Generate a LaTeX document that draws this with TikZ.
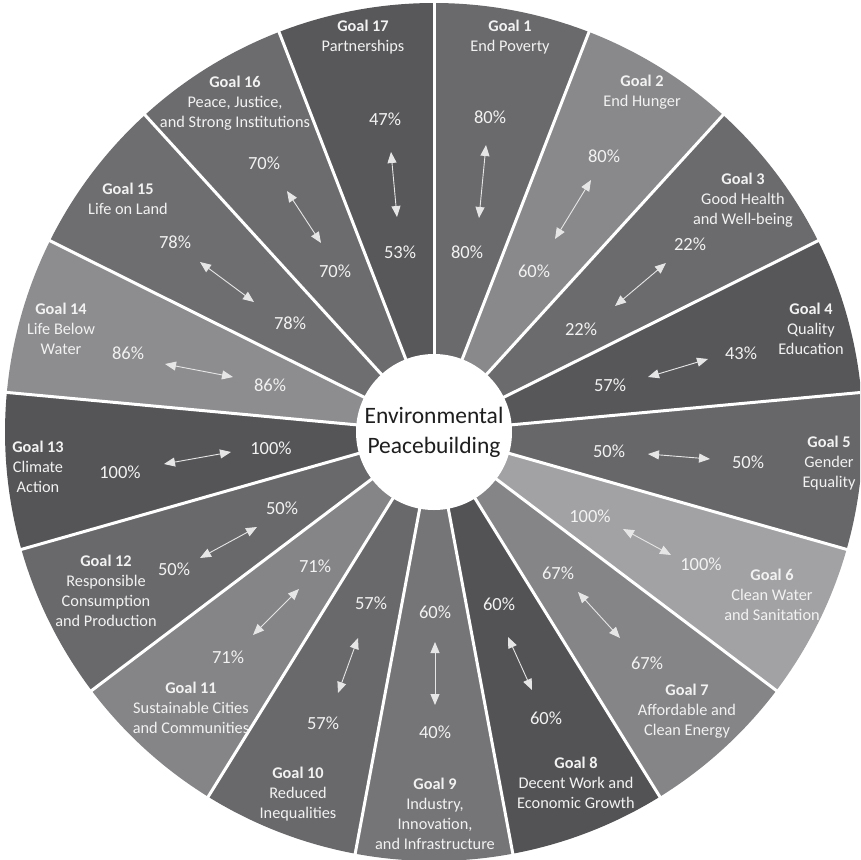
\documentclass[tikz,border=0pt]{standalone}
\usepackage{fontspec}
\setmainfont{Carlito}
\usetikzlibrary{arrows.meta}
\definecolor{c1}{HTML}{6A6A6D}
\definecolor{c2}{HTML}{89898C}
\definecolor{c3}{HTML}{6B6B6E}
\definecolor{c4}{HTML}{57575A}
\definecolor{c5}{HTML}{67676A}
\definecolor{c6}{HTML}{A2A2A5}
\definecolor{c7}{HTML}{858588}
\definecolor{c8}{HTML}{535356}
\definecolor{c9}{HTML}{757578}
\definecolor{c10}{HTML}{69696C}
\definecolor{c11}{HTML}{858588}
\definecolor{c12}{HTML}{69696C}
\definecolor{c13}{HTML}{555558}
\definecolor{c14}{HTML}{8D8D90}
\definecolor{c15}{HTML}{6E6E71}
\definecolor{c16}{HTML}{6C6C6F}
\definecolor{c17}{HTML}{58585B}
\definecolor{labelc}{HTML}{F2F2F2}
\definecolor{arrowc}{HTML}{E6E6E6}
\definecolor{centertext}{HTML}{1E1E1E}
\begin{document}
\begin{tikzpicture}[x=1pt,y=-1pt,
  lbl/.style={text=labelc, align=center, font=\fontsize{16.3}{19.8}\selectfont, inner sep=0pt},
  pct/.style={text=labelc, font=\fontsize{18.5}{20}\selectfont, inner sep=0pt},
  dbl/.style={draw=arrowc, line width=0.9pt, {Triangle[length=11pt,width=9pt]}-{Triangle[length=11pt,width=9pt]}},
  sep/.style={draw=white, line width=3pt}]
\useasboundingbox (0,0) rectangle (860,860);
\fill[white] (0,0) rectangle (860,860);
\clip (0,0) rectangle (860,860);
\coordinate (C) at (434,432);
% sectors
\foreach \k in {1,...,17}{
  \pgfmathsetmacro\ta{-90+(\k-1)*360/17}
  \pgfmathsetmacro\tb{-90+\k*360/17}
  \fill[c\k] (C) -- ++(\ta:429) arc[start angle=\ta, end angle=\tb, radius=429] -- cycle;
}
% separators
\foreach \k in {0,...,16}{
  \pgfmathsetmacro\ta{-90+\k*360/17}
  \draw[sep] (C) -- ++(\ta:440);
}
% centre
\node[circle, fill=white, minimum size=156pt, inner sep=0pt, text=centertext, align=center,
  font=\fontsize{23.5}{30}\selectfont] (centre) at (C) {Environmental\\Peacebuilding};

% Goal 1
\node[lbl] (g1) at (510,37) {\textbf{Goal 1}\\End Poverty};
\node[pct] (p1a) at (490,117) {80\%};
\node[pct] (p1b) at (467,252) {80\%};
\coordinate (a1s) at (486,145); \coordinate (a1e) at (479,218);
\draw[dbl] (a1s) -- (a1e);
% Goal 2
\node[lbl] (g2) at (642,92) {\textbf{Goal 2}\\End Hunger};
\node[pct] (p2a) at (604,156) {80\%};
\node[pct] (p2b) at (534,271) {60\%};
\coordinate (a2s) at (591,180); \coordinate (a2e) at (555,239);
\draw[dbl] (a2s) -- (a2e);
% Goal 3
\node[lbl] (g3) at (743,200) {\textbf{Goal 3}\\Good Health\\and Well-being};
\node[pct] (p3a) at (690,244) {22\%};
\node[pct] (p3b) at (581,329) {22\%};
\coordinate (a3s) at (666,263); \coordinate (a3e) at (615,306);
\draw[dbl] (a3s) -- (a3e);
% Goal 4
\node[lbl] (g4) at (811,329) {\textbf{Goal 4}\\Quality\\Education};
\node[pct] (p4a) at (741,353) {43\%};
\node[pct] (p4b) at (610,385) {57\%};
\coordinate (a4s) at (708,359); \coordinate (a4e) at (648,377);
\draw[dbl] (a4s) -- (a4e);
% Goal 5
\node[lbl] (g5) at (829,463) {\textbf{Goal 5}\\Gender\\Equality};
\node[pct] (p5a) at (609,451) {50\%};
\node[pct] (p5b) at (748,462) {50\%};
\coordinate (a5s) at (648,454); \coordinate (a5e) at (710,459);
\draw[dbl] (a5s) -- (a5e);
% Goal 6
\node[lbl] (g6) at (772,595) {\textbf{Goal 6}\\Clean Water\\and Sanitation};
\node[pct] (p6a) at (590,516) {100\%};
\node[pct] (p6b) at (701,564) {100\%};
\coordinate (a6s) at (623,529); \coordinate (a6e) at (671,555);
\draw[dbl] (a6s) -- (a6e);
% Goal 7
\node[lbl] (g7) at (687,711) {\textbf{Goal 7}\\Affordable and\\Clean Energy};
\node[pct] (p7a) at (558,573) {67\%};
\node[pct] (p7b) at (647,663) {67\%};
\coordinate (a7s) at (578,592); \coordinate (a7e) at (620,638);
\draw[dbl] (a7s) -- (a7e);
% Goal 8
\node[lbl] (g8) at (576,783) {\textbf{Goal 8}\\Decent Work and\\Economic Growth};
\node[pct] (p8a) at (499,604) {60\%};
\node[pct] (p8b) at (546,718) {60\%};
\coordinate (a8s) at (508,637); \coordinate (a8e) at (532,690);
\draw[dbl] (a8s) -- (a8e);
% Goal 9
\node[lbl] (g9) at (435,814) {\textbf{Goal 9}\\Industry,\\Innovation,\\and Infrastructure};
\node[pct] (p9a) at (435,612) {60\%};
\node[pct] (p9b) at (435,732) {40\%};
\coordinate (a9s) at (435,642); \coordinate (a9e) at (435,705);
\draw[dbl] (a9s) -- (a9e);
% Goal 10
\node[lbl] (g10) at (298,794) {\textbf{Goal 10}\\Reduced\\Inequalities};
\node[pct] (p10a) at (371,603) {57\%};
\node[pct] (p10b) at (323,723) {57\%};
\coordinate (a10s) at (358,638); \coordinate (a10e) at (338,693);
\draw[dbl] (a10s) -- (a10e);
% Goal 11
\node[lbl] (g11) at (191,708) {\textbf{Goal 11}\\Sustainable Cities\\and Communities};
\node[pct] (p11a) at (315,566) {71\%};
\node[pct] (p11b) at (228,657) {71\%};
\coordinate (a11s) at (299,589); \coordinate (a11e) at (253,635);
\draw[dbl] (a11s) -- (a11e);
% Goal 12
\node[lbl] (g12) at (106,591) {\textbf{Goal 12}\\Responsible\\Consumption\\and Production};
\node[pct] (p12a) at (282,508) {50\%};
\node[pct] (p12b) at (174,569) {50\%};
\coordinate (a12s) at (257,527); \coordinate (a12e) at (200,558);
\draw[dbl] (a12s) -- (a12e);
% Goal 13
\node[lbl] (g13) at (38,467) {\textbf{Goal 13}\\Climate\\Action};
\node[pct] (p13a) at (120,472) {100\%};
\node[pct] (p13b) at (271,448) {100\%};
\coordinate (a13s) at (164,464); \coordinate (a13e) at (231,452);
\draw[dbl] (a13s) -- (a13e);
% Goal 14
\node[lbl] (g14) at (61,329) {\textbf{Goal 14}\\Life Below\\Water};
\node[pct] (p14a) at (128,353) {86\%};
\node[pct] (p14b) at (270,385) {86\%};
\coordinate (a14s) at (165,364); \coordinate (a14e) at (233,377);
\draw[dbl] (a14s) -- (a14e);
% Goal 15
\node[lbl] (g15) at (128,199) {\textbf{Goal 15}\\Life on Land};
\node[pct] (p15a) at (175,242) {78\%};
\node[pct] (p15b) at (290,323) {78\%};
\coordinate (a15s) at (200,262); \coordinate (a15e) at (254,302);
\draw[dbl] (a15s) -- (a15e);
% Goal 16
\node[lbl] (g16) at (235,103) {\textbf{Goal 16}\\Peace, Justice,\\and Strong Institutions};
\node[pct] (p16a) at (264,163) {70\%};
\node[pct] (p16b) at (335,271) {70\%};
\coordinate (a16s) at (287,191); \coordinate (a16e) at (321,243);
\draw[dbl] (a16s) -- (a16e);
% Goal 17
\node[lbl] (g17) at (363,37) {\textbf{Goal 17}\\Partnerships};
\node[pct] (p17a) at (385,119) {47\%};
\node[pct] (p17b) at (400,252) {53\%};
\coordinate (a17s) at (391,152); \coordinate (a17e) at (397,217);
\draw[dbl] (a17s) -- (a17e);
\end{tikzpicture}
\end{document}
